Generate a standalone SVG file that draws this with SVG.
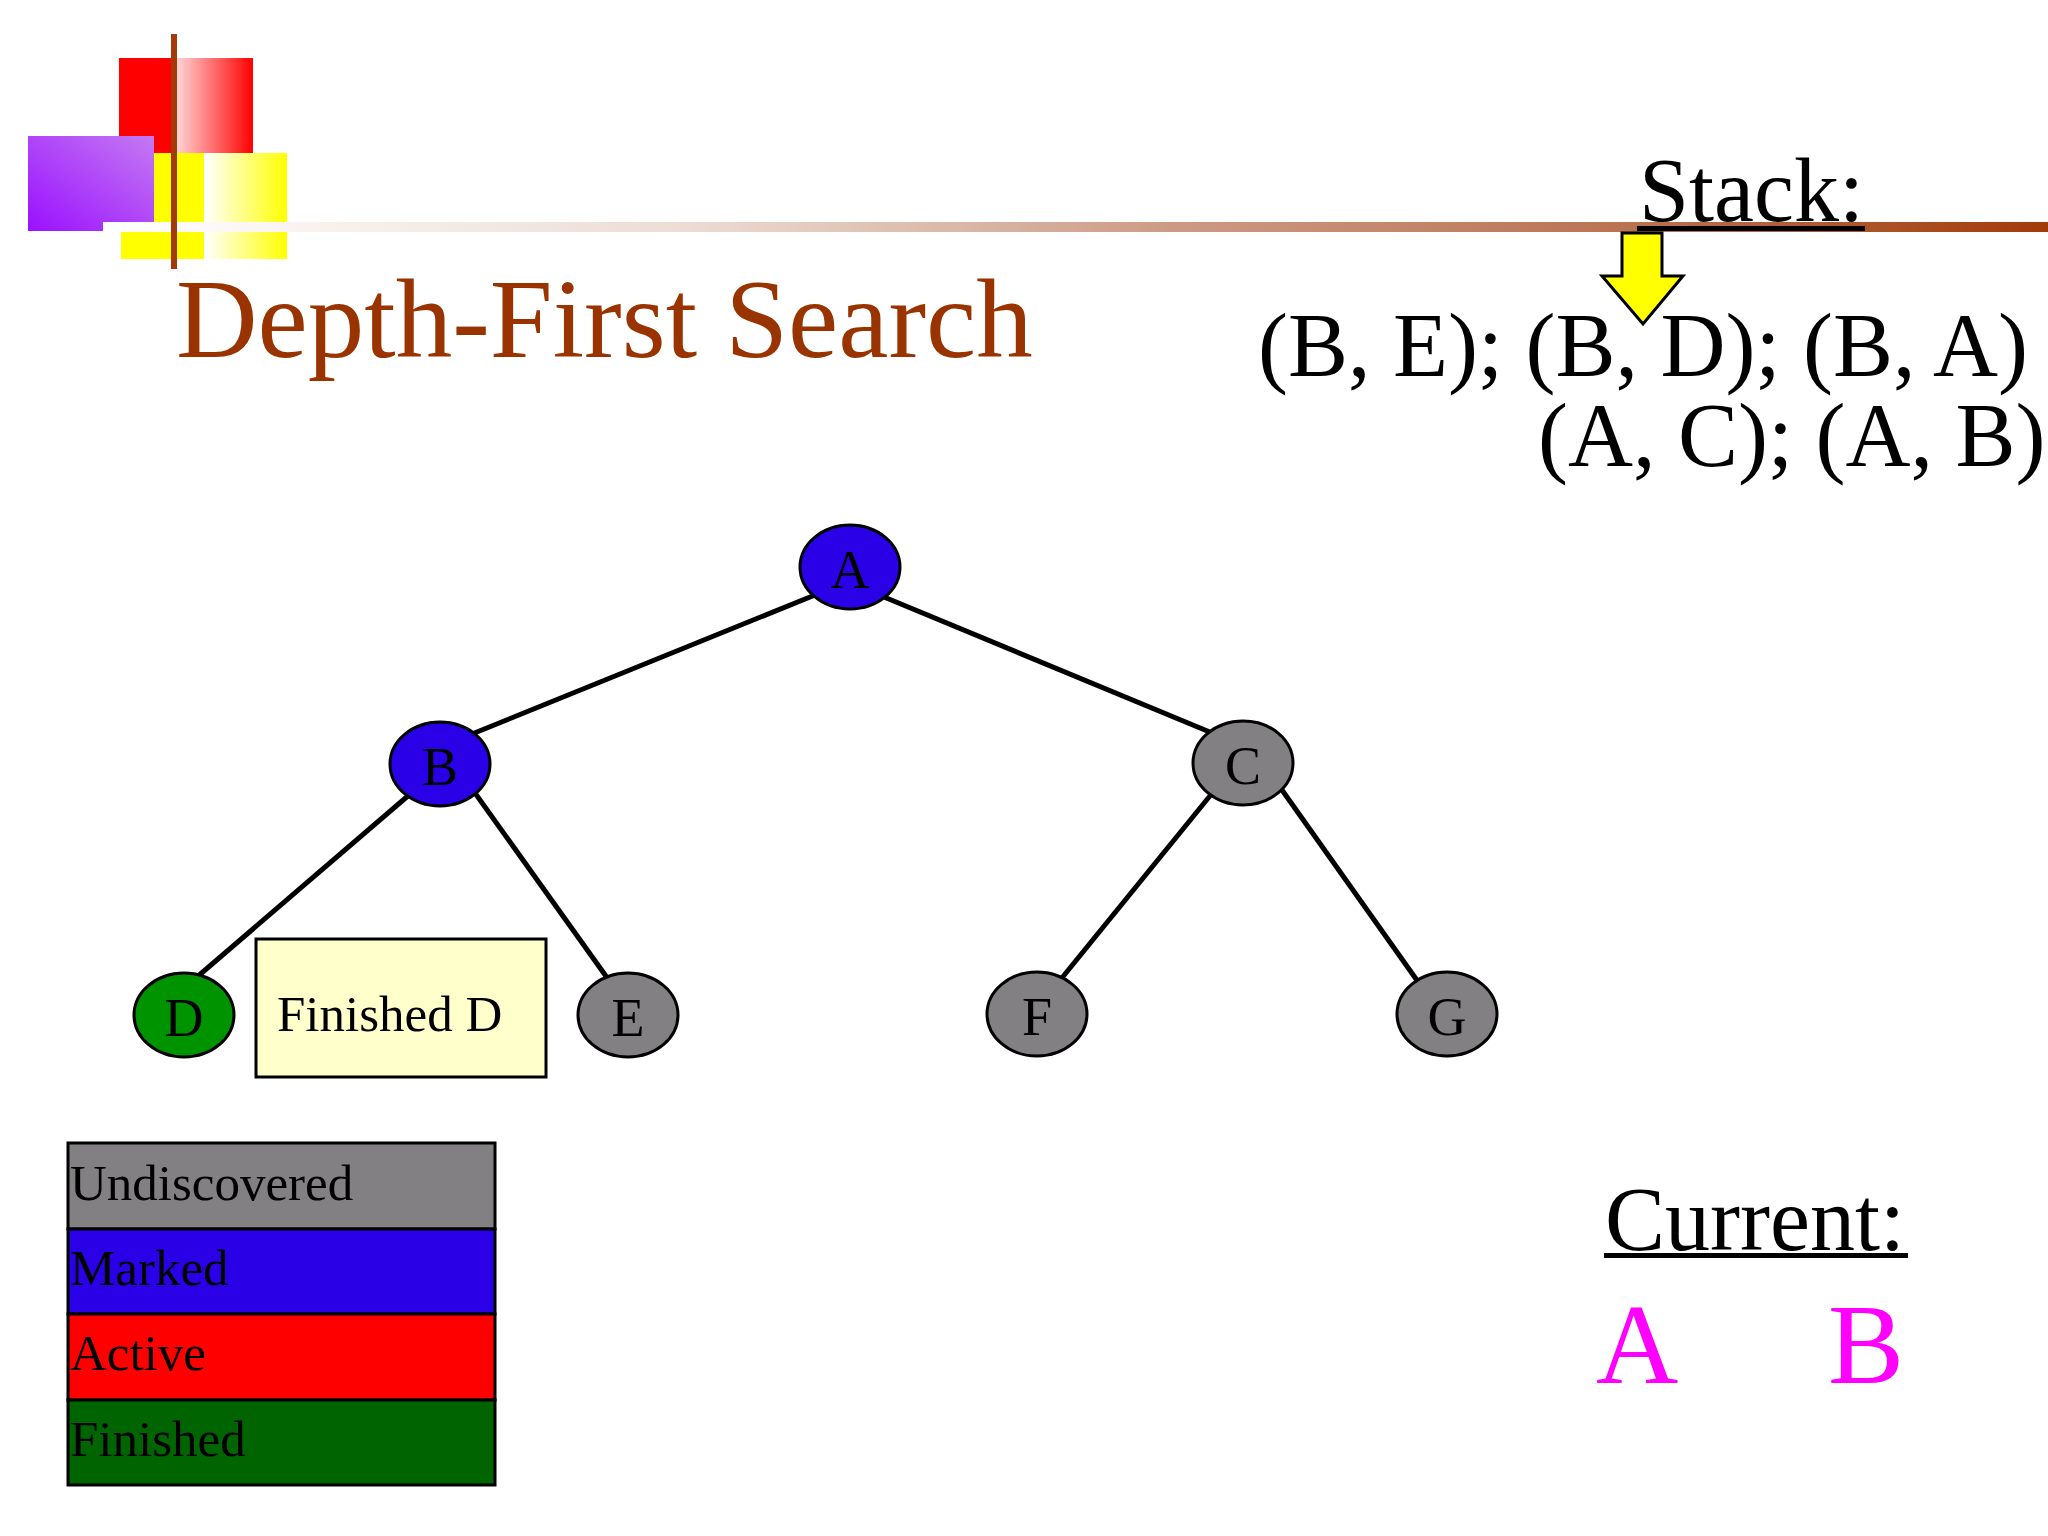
<svg xmlns="http://www.w3.org/2000/svg" width="2048" height="1536" viewBox="0 0 2048 1536">
  <defs>
    <linearGradient id="gRed" x1="0" y1="0" x2="1" y2="0">
      <stop offset="0" stop-color="#ffd8d8"/>
      <stop offset="1" stop-color="#ff0000"/>
    </linearGradient>
    <linearGradient id="gYel" x1="0" y1="0" x2="1" y2="0">
      <stop offset="0" stop-color="#ffffff"/>
      <stop offset="1" stop-color="#ffff00"/>
    </linearGradient>
    <linearGradient id="gPur" x1="0" y1="1" x2="1" y2="0">
      <stop offset="0" stop-color="#9a10ff"/>
      <stop offset="1" stop-color="#c47af2"/>
    </linearGradient>
    <linearGradient id="gLine" x1="103" y1="0" x2="2048" y2="0" gradientUnits="userSpaceOnUse">
      <stop offset="0" stop-color="#ffffff"/>
      <stop offset="0.3" stop-color="#ecdcd4"/>
      <stop offset="0.55" stop-color="#cc9a84"/>
      <stop offset="0.8" stop-color="#b8704e"/>
      <stop offset="1" stop-color="#a33a0a"/>
    </linearGradient>
    <style>
      .serif { font-family: "Liberation Serif", "Times New Roman", serif; }
      .node ellipse { stroke: #000; stroke-width: 3; }
      .node text { font-family: "Liberation Serif", "Times New Roman", serif; font-size: 54px; fill: #000; text-anchor: middle; }
      .blue { fill: #2a00e6; }
      .gray { fill: #828082; }
      .green { fill: #009300; }
      .edge { stroke: #000; stroke-width: 5; fill: none; }
      .leg rect { stroke: #000; stroke-width: 3; }
      .leg text { font-family: "Liberation Serif", "Times New Roman", serif; font-size: 51px; fill: #000; }
      .big { font-family: "Liberation Serif", "Times New Roman", serif; font-size: 90px; fill: #000; }
    </style>
  </defs>
  <rect x="0" y="0" width="2048" height="1536" fill="#ffffff"/>

  <!-- decoration -->
  <g id="decoration">
    <rect x="119" y="58" width="54" height="95" fill="#ff0000"/>
    <rect x="175" y="58" width="78" height="95" fill="url(#gRed)"/>
    <rect x="121" y="153" width="83" height="106" fill="#ffff00"/>
    <rect x="204" y="153" width="83" height="106" fill="url(#gYel)"/>
    <rect x="28" y="136" width="126" height="95" fill="url(#gPur)"/>
    <rect x="103" y="222" width="1945" height="10" fill="url(#gLine)"/>
    <rect x="171" y="34" width="6" height="235" fill="#a33a0a"/>
  </g>

  <text id="title" class="serif" x="176" y="357" font-size="113" fill="#993300">Depth-First Search</text>

  <!-- stack -->
  <g id="stack">
    <text class="big" x="1639" y="221">Stack:</text>
    <rect x="1637" y="226" width="228" height="5" fill="#000"/>
    <path d="M1622,233 H1662 V276 H1683 L1643,324 L1602,276 H1622 Z" fill="#ffff00" stroke="#000" stroke-width="3" stroke-linejoin="miter"/>
    <text class="big" x="1258" y="376" font-size="91">(B, E); (B, D); (B, A)</text>
    <text class="big" x="1538" y="466">(A, C); (A, B)</text>
  </g>

  <!-- connectors -->
  <g id="connectors">
    <line class="edge" x1="815" y1="595" x2="472" y2="734"/>
    <line class="edge" x1="884" y1="597" x2="1217" y2="735"/>
    <line class="edge" x1="409" y1="795" x2="197" y2="977"/>
    <line class="edge" x1="470" y1="786" x2="608" y2="979"/>
    <line class="edge" x1="1218" y1="786" x2="1061" y2="979"/>
    <line class="edge" x1="1282" y1="790" x2="1421" y2="986"/>
  </g>

  <!-- nodes -->
  <g id="node-A" class="node"><ellipse class="blue" cx="850" cy="567" rx="50" ry="42"/><text x="850" y="588">A</text></g>
  <g id="node-B" class="node"><ellipse class="blue" cx="440" cy="764" rx="50" ry="42"/><text x="440" y="785">B</text></g>
  <g id="node-C" class="node"><ellipse class="gray" cx="1243" cy="763" rx="50" ry="42"/><text x="1243" y="784">C</text></g>
  <g id="node-D" class="node"><ellipse class="green" cx="184" cy="1015" rx="50" ry="42"/><text x="184" y="1036">D</text></g>
  <g id="node-E" class="node"><ellipse class="gray" cx="628" cy="1015" rx="50" ry="42"/><text x="628" y="1036">E</text></g>
  <g id="node-F" class="node"><ellipse class="gray" cx="1037" cy="1014" rx="50" ry="42"/><text x="1037" y="1035">F</text></g>
  <g id="node-G" class="node"><ellipse class="gray" cx="1447" cy="1014" rx="50" ry="42"/><text x="1447" y="1035">G</text></g>

  <!-- callout -->
  <g id="finished-note">
    <rect x="256" y="939" width="290" height="138" fill="#ffffcc" stroke="#000" stroke-width="3"/>
    <text class="serif" x="277" y="1031" font-size="51" fill="#000">Finished D</text>
  </g>

  <!-- legend -->
  <g id="legend" class="leg">
    <rect x="68" y="1143" width="427" height="86" fill="#828082"/>
    <rect x="68" y="1229" width="427" height="85" fill="#2a00e6"/>
    <rect x="68" y="1314" width="427" height="86" fill="#ff0000"/>
    <rect x="68" y="1400" width="427" height="85" fill="#006400"/>
    <text x="70" y="1200">Undiscovered</text>
    <text x="70" y="1285">Marked</text>
    <text x="70" y="1370">Active</text>
    <text x="70" y="1456">Finished</text>
  </g>

  <!-- current -->
  <g id="current">
    <text class="big" x="1605" y="1250">Current:</text>
    <rect x="1604" y="1253" width="304" height="5" fill="#000"/>
    <text class="serif" x="1596" y="1383" font-size="114" fill="#ff00ff">A</text>
    <text class="serif" x="1828" y="1383" font-size="114" fill="#ff00ff">B</text>
  </g>
</svg>
